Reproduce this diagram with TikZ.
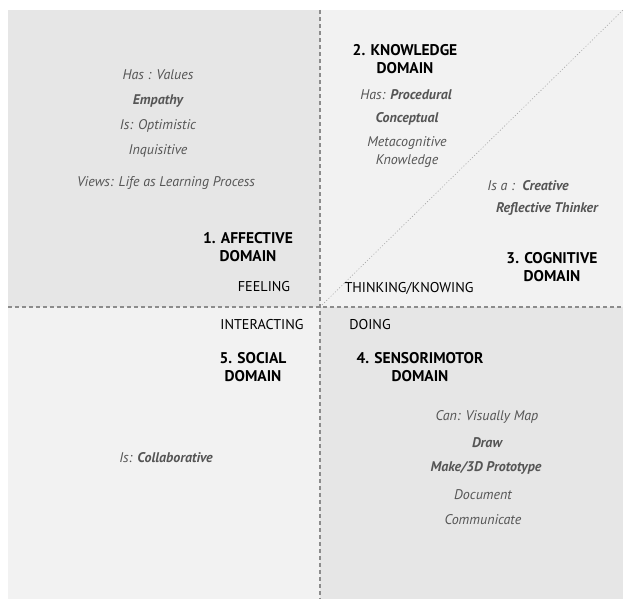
\documentclass[tikz,border=0pt]{standalone}
\usepackage{fontspec}
\setmainfont{PT Sans}
\usepackage{tikz}
\definecolor{darkfill}{HTML}{E6E6E6}
\definecolor{lightfill}{HTML}{F2F2F2}
\definecolor{notegray}{HTML}{555555}
\tikzset{
	domaintitle/.style={font=\bfseries\fontsize{15.5}{18}\selectfont, align=center, inner sep=0pt},
	verb/.style={font=\fontsize{14.2}{16}\selectfont, inner sep=0pt},
	note/.style={font=\itshape\fontsize{14}{18}\selectfont, text=notegray, align=center, inner sep=0pt},
	divider/.style={line width=1.1pt, color=black!45, dash pattern=on 4pt off 3pt}
}

\begin{document}
\begin{tikzpicture}[x=1pt, y=-1pt]
		%%%%% START %%%%%
		\useasboundingbox (0, 0) rectangle (623, 599);
		
		\fill[darkfill] (8, 10) rectangle (320, 307);
		\fill[lightfill] (320, 10) rectangle (623, 307);
		\fill[lightfill] (8, 307) rectangle (320, 599);
		\fill[darkfill] (320, 307) rectangle (623, 599);
		
		\coordinate (center) at (320, 307);
		\coordinate (corner) at (623, 10);
		\draw[line width=0.6pt, color=black!35, dash pattern=on 1pt off 2pt] (center) -- (corner);
		\draw[divider] (320, 10) -- (320, 599);
		\draw[divider] (8, 307) -- (623, 307);
		
		% affective
		\node[note] (values) at (158, 75) {Has : Values};
		\node[note] (empathy) at (158, 101) {\bfseries Empathy};
		\node[note] (optimistic) at (158, 126) {Is: Optimistic};
		\node[note] (inquisitive) at (158, 151) {Inquisitive};
		\node[note] (views) at (166, 183) {Views: Life as Learning Process};
		\node[domaintitle] (affective) at (248, 247) {1. AFFECTIVE\\DOMAIN};
		\node[verb] (feeling) at (264, 287) {FEELING};
		
		% knowledge
		\node[domaintitle] (knowledge) at (405, 59) {2. KNOWLEDGE\\DOMAIN};
		\node[note] (procedural) at (406, 95) {Has: \textbf{Procedural}};
		\node[note] (conceptual) at (407, 119) {\bfseries Conceptual};
		\node[note] (meta) at (407, 152) {Metacognitive\\Knowledge};
		
		% cognitive
		\node[note] (creative) at (528, 186) {Is a :~~\textbf{Creative}};
		\node[note] (reflective) at (547, 209) {\bfseries Reflective Thinker};
		\node[domaintitle] (cognitive) at (552, 267) {3. COGNITIVE\\DOMAIN};
		\node[verb] (thinking) at (409, 288) {THINKING/KNOWING};
		
		% social
		\node[verb] (interacting) at (262, 325) {INTERACTING};
		\node[domaintitle] (social) at (253, 367) {5. SOCIAL\\DOMAIN};
		\node[note] (collab) at (166, 458) {Is: \textbf{Collaborative}};
		
		% sensorimotor
		\node[verb] (doing) at (370, 325) {DOING};
		\node[domaintitle] (sensori) at (420, 367) {4. SENSORIMOTOR\\DOMAIN};
		\node[note] (map) at (487, 417) {Can: Visually Map};
		\node[note] (draw) at (487, 443) {\bfseries Draw};
		\node[note] (make) at (486, 468) {\bfseries Make/3D Prototype};
		\node[note] (document) at (483, 495) {Document};
		\node[note] (communicate) at (483, 520) {Communicate};
		%%%%% END %%%%%
	\end{tikzpicture}
\end{document}
